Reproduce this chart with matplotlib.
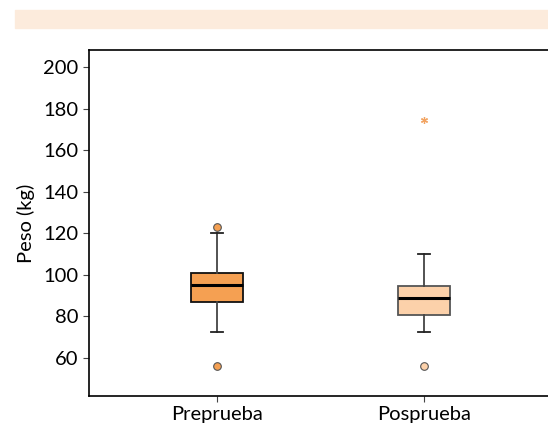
import matplotlib.pyplot as plt

plt.rcParams['font.family'] = ['Lato', 'DejaVu Sans']

groups = ['Preprueba', 'Posprueba']
q1 = [87.0, 80.5]
med = [95.0, 88.8]
q3 = [101.0, 94.6]
whislo = [72.5, 72.5]
whishi = [120.0, 110.0]
outliers = [[123.0, 56.0], [56.0]]
extremes = [[], [174.5]]
box_colors = ['#f5a052', '#fcd1aa']
edge_colors = ['#111111', '#555555']

fig = plt.figure(figsize=(5.48, 4.32), dpi=100)
# light banner on top
fig.patches.append(plt.Rectangle((15 / 548, 1 - 28 / 432), 1, 18 / 432,
                                 transform=fig.transFigure,
                                 color='#fcebdc', zorder=0))
ax = fig.add_axes([89 / 548, 36 / 432, 463 / 548, 346 / 432])

stats = []
for i, g in enumerate(groups):
    stats.append({'label': g, 'q1': q1[i], 'med': med[i], 'q3': q3[i],
                  'whislo': whislo[i], 'whishi': whishi[i],
                  'fliers': outliers[i]})

pos = [1, 2]
bp = ax.bxp(stats, positions=pos, widths=0.25, capwidths=0.06,
            patch_artist=True,
            medianprops=dict(color='black', linewidth=2.2),
            whiskerprops=dict(color='#444444', linewidth=1.3),
            capprops=dict(color='#222222', linewidth=1.3))
for i, b in enumerate(bp['boxes']):
    b.set_facecolor(box_colors[i])
    b.set_edgecolor(edge_colors[i])
    b.set_linewidth(1.3)
for i, f in enumerate(bp['fliers']):
    f.set_marker('o')
    f.set_markersize(5.5)
    f.set_markerfacecolor(box_colors[i])
    f.set_markeredgecolor('#555555')
    f.set_markeredgewidth(0.8)

for i, e in enumerate(extremes):
    if e:
        ax.plot([pos[i]] * len(e), e, linestyle='none', marker=(6, 2, 0),
                markersize=5, markeredgecolor='#f2a462',
                markeredgewidth=0.9)

ax.set_xlim(0.38, 2.62)
ax.set_ylim(41.7, 208.2)
ax.set_yticks(range(60, 201, 20))
ax.set_xticks(pos)
ax.set_xticklabels(groups)
ax.set_ylabel('Peso (kg)', fontsize=14.5, labelpad=6)
ax.tick_params(axis='both', labelsize=14.5, length=4, color='#444444')
for s in ax.spines.values():
    s.set_linewidth(1.2)

fig.savefig('out.png', dpi=100)
